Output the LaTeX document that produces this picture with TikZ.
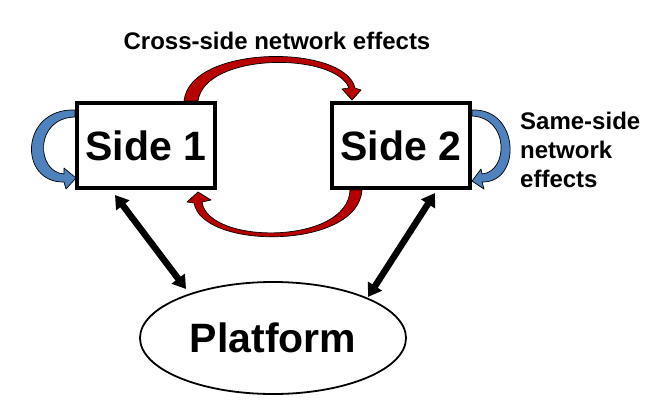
\documentclass[tikz,border=0pt]{standalone}
\usepackage{fontspec}
\setmainfont{Liberation Sans}
\usetikzlibrary{arrows.meta,shapes.geometric,calc,backgrounds}
\begin{document}
\begin{tikzpicture}[x=1pt,y=-1pt,
  sidebox/.style={draw,line width=4pt,minimum width=138pt,minimum height=85pt,inner sep=0pt,font=\fontsize{41}{49}\selectfont\bfseries},
  platf/.style={ellipse,draw,line width=1.8pt,minimum width=266pt,minimum height=112pt,inner sep=0pt,font=\fontsize{41}{49}\selectfont\bfseries},
  dbl/.style={line width=6.5pt,{Triangle[length=13pt,width=16pt]}-{Triangle[length=13pt,width=16pt]}},
  redarr/.style={fill={rgb,255:red,185;green,0;blue,0},draw=black,line width=0.7pt,line join=round},
  bluearr/.style={fill={rgb,255:red,79;green,129;blue,189},draw=black,line width=0.7pt,line join=round},
  lbl/.style={font=\fontsize{24}{29}\selectfont\bfseries,inner sep=0pt}]
\useasboundingbox (0,0) rectangle (660,412);

\node[sidebox] (s1) at (146,145.5) {Side 1};
\node[sidebox] (s2) at (401,145.5) {Side 2};
\node[platf] (pl) at (273,338) {Platform};

\node[lbl,anchor=base] (cross) at (277,49) {Cross-side network effects};
\node[lbl,anchor=north west,align=left] (same) at (520,112.4) {Same-side\\network\\effects};

\begin{scope}[on background layer]
% cross-side, top: Side 1 -> Side 2
\path[redarr] (184,101) .. controls (190,44) and (345,44) .. (355,88) -- (361,90) -- (352,100) -- (342,89) -- (349,88) .. controls (335,52) and (205,52) .. (198,101) -- cycle;
% cross-side, bottom: Side 2 -> Side 1
\path[redarr] (362,190) .. controls (358,250) and (202,250) .. (194,203) -- (187,202) -- (198,192) -- (211,200) -- (202,202) .. controls (208,245) and (348,245) .. (350,190) -- cycle;
% same-side, Side 1
\path[bluearr] (75,110) .. controls (20,108) and (18,183) .. (64,182) -- (66,189) -- (76,178) -- (64,168) -- (64,174) .. controls (36,172) and (34,118) .. (75,117) -- cycle;
% same-side, Side 2
\path[bluearr] (472,110) .. controls (520,108) and (522,183) .. (482,182) -- (484,189) -- (472,181) -- (481,169) -- (482,174) .. controls (508,172) and (510,118) .. (472,116) -- cycle;
\end{scope}

\draw[dbl] ($(s1.south)+(-31,5)$) -- ($(pl.center)+(-87,-49)$);
\draw[dbl] ($(s2.south)+(34,3)$) -- ($(pl.center)+(95,-41)$);
\end{tikzpicture}
\end{document}
